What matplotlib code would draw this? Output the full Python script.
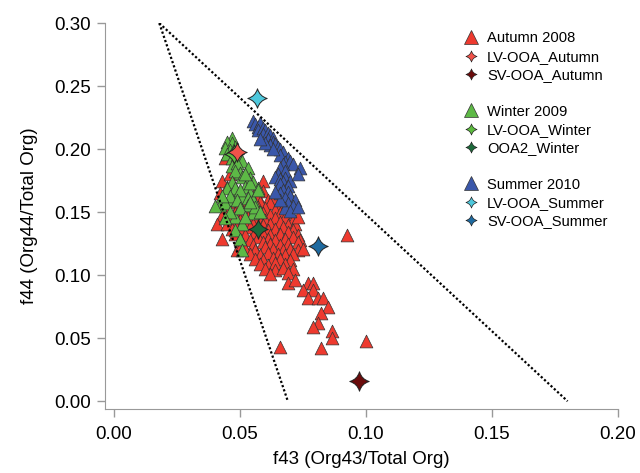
import numpy as np
import matplotlib.pyplot as plt
from matplotlib.path import Path
from matplotlib.lines import Line2D

plt.rcParams['font.family'] = ['Liberation Sans', 'DejaVu Sans']

# f43 / f44 values
autumn_f43 = [0.043, 0.042, 0.044, 0.046, 0.045, 0.047, 0.059, 0.0445, 0.043, 0.041, 0.043, 0.049,
              0.056, 0.059,
              0.054, 0.057, 0.061, 0.063,
              0.051, 0.055, 0.058, 0.062, 0.066,
              0.049, 0.053, 0.057, 0.060, 0.064, 0.068,
              0.048, 0.051, 0.055, 0.059, 0.062, 0.066, 0.070,
              0.046, 0.050, 0.053, 0.057, 0.060, 0.064, 0.068, 0.071,
              0.045, 0.048, 0.052, 0.055, 0.059, 0.062, 0.066, 0.069, 0.072,
              0.047, 0.050, 0.054, 0.057, 0.061, 0.064, 0.067, 0.071,
              0.048, 0.052, 0.056, 0.059, 0.062, 0.066, 0.069, 0.073,
              0.050, 0.054, 0.057, 0.061, 0.064, 0.068, 0.071, 0.074,
              0.051, 0.055, 0.059, 0.062, 0.066, 0.069, 0.073,
              0.052, 0.056, 0.060, 0.063, 0.067, 0.070, 0.073,
              0.054, 0.058, 0.061, 0.065, 0.068, 0.071,
              0.056, 0.059, 0.063, 0.066, 0.070,
              0.058, 0.061, 0.064, 0.068, 0.071,
              0.060, 0.064, 0.067, 0.062, 0.069,
              0.073, 0.075, 0.0925, 0.069, 0.072, 0.077, 0.079, 0.075, 0.079, 0.077, 0.081,
              0.083, 0.085, 0.082, 0.081, 0.079, 0.0865, 0.0865, 0.100, 0.082, 0.066]
autumn_f44 = [0.175, 0.165, 0.193, 0.180, 0.170, 0.158, 0.175, 0.152, 0.148, 0.141, 0.129, 0.120,
              0.166, 0.167,
              0.161, 0.162, 0.160, 0.161,
              0.157, 0.156, 0.158, 0.157, 0.156,
              0.153, 0.152, 0.154, 0.153, 0.152, 0.153,
              0.149, 0.148, 0.150, 0.149, 0.148, 0.149, 0.150,
              0.145, 0.144, 0.146, 0.145, 0.144, 0.145, 0.146, 0.144,
              0.141, 0.140, 0.142, 0.141, 0.140, 0.141, 0.142, 0.140, 0.141,
              0.137, 0.136, 0.138, 0.137, 0.136, 0.137, 0.138, 0.136,
              0.133, 0.132, 0.134, 0.133, 0.132, 0.133, 0.134, 0.132,
              0.129, 0.128, 0.130, 0.129, 0.128, 0.129, 0.130, 0.128,
              0.125, 0.124, 0.126, 0.125, 0.124, 0.125, 0.126,
              0.121, 0.120, 0.122, 0.121, 0.120, 0.121, 0.120,
              0.117, 0.116, 0.118, 0.117, 0.116, 0.117,
              0.113, 0.112, 0.114, 0.113, 0.112,
              0.109, 0.108, 0.110, 0.109, 0.105,
              0.105, 0.104, 0.106, 0.101, 0.102,
              0.146, 0.121, 0.132, 0.094, 0.096, 0.094, 0.094, 0.088, 0.088, 0.082, 0.082,
              0.082, 0.075, 0.070, 0.062, 0.059, 0.056, 0.050, 0.048, 0.042, 0.043]

winter_f43 = [0.047, 0.045, 0.047, 0.044, 0.046, 0.048, 0.045, 0.047, 0.049, 0.051, 0.047, 0.049,
              0.053, 0.050, 0.048, 0.051, 0.054, 0.047, 0.055, 0.052, 0.057, 0.049, 0.054, 0.051,
              0.055, 0.042, 0.046, 0.045, 0.048, 0.050, 0.054, 0.057, 0.046, 0.049, 0.053, 0.053,
              0.055, 0.048, 0.051, 0.048, 0.050, 0.051, 0.044, 0.043, 0.052, 0.050, 0.046, 0.056,
              0.058, 0.052, 0.040, 0.044, 0.054]
winter_f44 = [0.209, 0.206, 0.205, 0.201, 0.199, 0.202, 0.196, 0.193, 0.195, 0.191, 0.187, 0.189,
              0.185, 0.181, 0.183, 0.178, 0.177, 0.174, 0.174, 0.170, 0.169, 0.166, 0.165, 0.162,
              0.160, 0.156, 0.160, 0.169, 0.169, 0.168, 0.173, 0.168, 0.163, 0.160, 0.161, 0.156,
              0.149, 0.146, 0.141, 0.136, 0.129, 0.120, 0.157, 0.163, 0.180, 0.153, 0.150, 0.154,
              0.150, 0.146, 0.155, 0.145, 0.158]

summer_f43 = [0.055, 0.056, 0.057, 0.058, 0.057, 0.059, 0.060, 0.059, 0.061, 0.062, 0.061, 0.063,
              0.063, 0.064, 0.062, 0.065, 0.066, 0.067, 0.066, 0.069, 0.068, 0.070, 0.071, 0.067,
              0.066, 0.068, 0.065, 0.064, 0.066, 0.068, 0.067, 0.070, 0.069, 0.066, 0.067, 0.069,
              0.066, 0.070, 0.068, 0.072, 0.069, 0.071, 0.068, 0.070, 0.073, 0.060, 0.058, 0.063,
              0.066, 0.064, 0.074, 0.073]
summer_f44 = [0.222, 0.220, 0.218, 0.221, 0.215, 0.217, 0.215, 0.212, 0.213, 0.211, 0.208, 0.209,
              0.206, 0.204, 0.203, 0.202, 0.200, 0.198, 0.195, 0.193, 0.190, 0.191, 0.188, 0.188,
              0.185, 0.183, 0.180, 0.178, 0.176, 0.177, 0.174, 0.175, 0.171, 0.172, 0.168, 0.166,
              0.165, 0.163, 0.161, 0.160, 0.157, 0.155, 0.153, 0.151, 0.154, 0.205, 0.208, 0.200,
              0.160, 0.166, 0.185, 0.180]

# factor profiles
factor_names = ['LV-OOA_Winter', 'LV-OOA_Autumn', 'SV-OOA_Autumn', 'OOA2_Winter',
                'LV-OOA_Summer', 'SV-OOA_Summer']
factor_f43 = [0.0475, 0.0488, 0.0972, 0.0571, 0.0567, 0.0810]
factor_f44 = [0.1965, 0.1980, 0.0159, 0.1370, 0.2410, 0.1230]
factor_colors = ['#5cbb3e', '#f0524a', '#6a0b0b', '#1c6a3a', '#4ec8dc', '#1e6aa0']

# triangle guide lines (f43, f44)
left_line = ([0.018, 0.069], [0.300, 0.0])
right_line = ([0.018, 0.180], [0.300, 0.0])

red = '#ee3a2f'
green = '#5db946'
blue = '#3a57aa'

# four pointed star with concave sides
star = Path([(0, 1), (0.22, 0.22), (1, 0), (0.22, -0.22), (0, -1), (-0.22, -0.22),
             (-1, 0), (-0.22, 0.22), (0, 1), (0, 1)],
            [Path.MOVETO, Path.CURVE3, Path.CURVE3, Path.CURVE3, Path.CURVE3,
             Path.CURVE3, Path.CURVE3, Path.CURVE3, Path.CURVE3, Path.CLOSEPOLY])

fig = plt.figure(figsize=(6.4, 4.73), dpi=100)
ax = fig.add_axes([0.164, 0.135, 0.8016, 0.816])

ax.plot(*left_line, color='black', lw=1.6, ls=(0, (1, 1)))
ax.plot(*right_line, color='black', lw=1.6, ls=(0, (1, 1)))

tri = dict(marker='^', s=85, edgecolors='#333333', linewidths=0.5)
ax.scatter(autumn_f43, autumn_f44, color=red, **tri)
ax.scatter(winter_f43, winter_f44, color=green, **tri)
ax.scatter(summer_f43, summer_f44, color=blue, **tri)

for x, y, c in zip(factor_f43, factor_f44, factor_colors):
    ax.plot(x, y, marker=star, ms=14, color=c, mec='#222222', mew=0.7, ls='none')

ax.set_xlim(-0.00357, 0.20)
ax.set_ylim(-0.0063, 0.30)
ax.set_xticks([0.00, 0.05, 0.10, 0.15, 0.20])
ax.set_yticks([0.00, 0.05, 0.10, 0.15, 0.20, 0.25, 0.30])
ax.xaxis.set_major_formatter(plt.FormatStrFormatter('%.2f'))
ax.yaxis.set_major_formatter(plt.FormatStrFormatter('%.2f'))
for s in ['top', 'right']:
    ax.spines[s].set_visible(False)
for s in ['left', 'bottom']:
    ax.spines[s].set_color('#999999')
ax.tick_params(colors='#999999', labelcolor='black', labelsize=13.5, length=6, width=1)
ax.tick_params(axis='x', pad=6)
ax.tick_params(axis='y', pad=4)
ax.set_xlabel('f43 (Org43/Total Org)', fontsize=13.5, labelpad=6)
ax.set_ylabel('f44 (Org44/Total Org)', fontsize=13.5, labelpad=12)

# legend with blank spacer rows between the campaigns
def tri_h(c):
    return Line2D([], [], marker='^', ms=9.5, color=c, mec='#333333', mew=0.5, ls='none')

def star_h(c):
    return Line2D([], [], marker=star, ms=8, color=c, mec='#222222', mew=0.5, ls='none')

blank = Line2D([], [], ls='none')
handles = [tri_h(red), star_h(factor_colors[1]), star_h(factor_colors[2]), blank,
           tri_h(green), star_h(factor_colors[0]), star_h(factor_colors[3]), blank,
           tri_h(blue), star_h(factor_colors[4]), star_h(factor_colors[5])]
labels = ['Autumn 2008', 'LV-OOA_Autumn', 'SV-OOA_Autumn', ' ',
          'Winter 2009', 'LV-OOA_Winter', 'OOA2_Winter', ' ',
          'Summer 2010', 'LV-OOA_Summer', 'SV-OOA_Summer']
fig.legend(handles, labels, loc='upper left', bbox_to_anchor=(0.715, 0.946), frameon=False,
           fontsize=10.6, handlelength=1.0, handletextpad=0.6, labelspacing=0.29,
           borderaxespad=0)

fig.savefig('out.png', dpi=100)
